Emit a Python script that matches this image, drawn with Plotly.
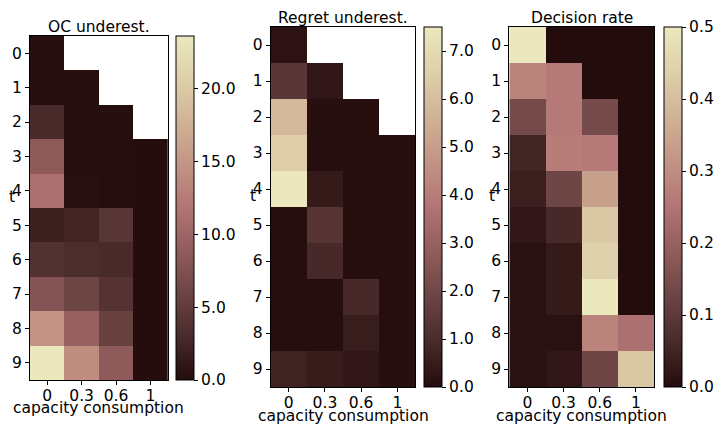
import plotly.graph_objects as go

W, H = 714, 427
nan = None

t_values = [0, 1, 2, 3, 4, 5, 6, 7, 8, 9]
cap_labels = ["0", "0.3", "0.6", "1"]

oc_underest = [
    [0.3, nan, nan, nan],
    [0.3, 0.2, nan, nan],
    [3.0, 0.2, 0.2, nan],
    [8.5, 0.2, 0.2, 0.1],
    [11.2, 0.4, 0.2, 0.1],
    [2.0, 2.5, 4.3, 0.1],
    [3.8, 3.3, 3.0, 0.1],
    [7.8, 6.0, 4.0, 0.1],
    [14.7, 9.5, 5.5, 0.1],
    [23.6, 14.2, 8.6, 0.1],
]

regret_underest = [
    [0.2, nan, nan, nan],
    [1.4, 0.3, nan, nan],
    [5.8, 0.1, 0.1, nan],
    [6.5, 0.05, 0.05, 0.05],
    [7.5, 0.45, 0.05, 0.05],
    [0.05, 1.3, 0.05, 0.05],
    [0.05, 0.9, 0.05, 0.05],
    [0.05, 0.05, 0.9, 0.05],
    [0.05, 0.05, 0.55, 0.05],
    [0.7, 0.5, 0.3, 0.1],
]

decision_rate = [
    [0.5, 0.0, 0.0, 0.0],
    [0.28, 0.26, 0.0, 0.0],
    [0.14, 0.26, 0.14, 0.0],
    [0.05, 0.27, 0.26, 0.0],
    [0.04, 0.13, 0.34, 0.0],
    [0.02, 0.06, 0.42, 0.0],
    [0.01, 0.03, 0.44, 0.0],
    [0.01, 0.03, 0.5, 0.0],
    [0.01, 0.01, 0.28, 0.24],
    [0.01, 0.02, 0.13, 0.42],
]

titles = ["OC underest.", "Regret underest.", "Decision rate"]
vmax = [23.6, 7.5, 0.5]
cb_dtick = [5, 1, 0.1]
datasets = [oc_underest, regret_underest, decision_rate]

pink_scale = [
    [0.0, "rgb(36,12,12)"],
    [0.125, "rgb(72,42,42)"],
    [0.25, "rgb(108,68,68)"],
    [0.375, "rgb(145,92,92)"],
    [0.5, "rgb(178,116,116)"],
    [0.625, "rgb(194,148,132)"],
    [0.75, "rgb(208,178,150)"],
    [0.875, "rgb(222,208,170)"],
    [1.0, "rgb(235,232,190)"],
]

# pixel boxes (left, right, top, bottom) for heatmaps and colorbars
hm_boxes = [(30, 168, 36, 380), (271, 416, 27, 387), (510, 655, 27, 387)]
cb_boxes = [(176, 194, 36, 380), (424, 442, 27, 387), (664, 682, 27, 387)]
title_y = [27, 18, 18]
xlabel_y = [408, 416, 416]
t_label_x = [12.5, 253, 493]

font = dict(family="DejaVu Sans", size=15.5, color="black")

fig = go.Figure()
annotations = []
for i, (z, title) in enumerate(zip(datasets, titles)):
    l, r, t, b = hm_boxes[i]
    cl, cr, ct, cb = cb_boxes[i]
    xa = "x" if i == 0 else f"x{i+1}"
    ya = "y" if i == 0 else f"y{i+1}"
    fig.add_trace(go.Heatmap(
        z=z, x=cap_labels, y=t_values,
        xaxis=xa, yaxis=ya,
        colorscale=pink_scale, zmin=0, zmax=vmax[i],
        xgap=0, ygap=0,
        hoverongaps=False,
        colorbar=dict(
            x=cl / W, xanchor="left", xpad=0, ypad=0,
            y=1 - (ct + cb) / 2 / H, yanchor="middle",
            len=(cb - ct) / H, lenmode="fraction",
            thickness=cr - cl, thicknessmode="pixels",
            outlinewidth=1, outlinecolor="black",
            ticks="outside", ticklen=4, tickcolor="black",
            tick0=0, dtick=cb_dtick[i], tickformat=".1f",
            tickfont=font,
        ),
    ))
    axkey = "xaxis" if i == 0 else f"xaxis{i+1}"
    aykey = "yaxis" if i == 0 else f"yaxis{i+1}"
    fig.layout[axkey] = dict(
        domain=[l / W, r / W], anchor=ya, type="category",
        showline=True, linecolor="black", linewidth=1, mirror=True,
        ticks="outside", ticklen=4, tickcolor="black", tickfont=font,
        ticklabelstandoff=-3,
        showgrid=False, zeroline=False, fixedrange=True, automargin=False,
    )
    fig.layout[aykey] = dict(
        domain=[1 - b / H, 1 - t / H], anchor=xa,
        autorange="reversed",
        tickmode="array", tickvals=t_values, ticktext=[str(v) for v in t_values],
        showline=True, linecolor="black", linewidth=1, mirror=True,
        ticks="outside", ticklen=4, tickcolor="black", tickfont=font,
        showgrid=False, zeroline=False, fixedrange=True, automargin=False,
    )
    annotations.append(dict(
        text=title, x=(l + r) / 2 / W, y=1 - title_y[i] / H,
        xref="paper", yref="paper", xanchor="center", yanchor="middle",
        showarrow=False, font=font,
    ))
    annotations.append(dict(
        text="capacity consumption", x=(l + r) / 2 / W, y=1 - xlabel_y[i] / H,
        xref="paper", yref="paper", xanchor="center", yanchor="middle",
        showarrow=False, font=font,
    ))
    annotations.append(dict(
        text="t", x=t_label_x[i] / W, y=1 - ((t + b) / 2 - 11) / H,
        xref="paper", yref="paper", xanchor="center", yanchor="middle",
        showarrow=False, font=font,
    ))

fig.update_layout(
    width=W, height=H,
    margin=dict(l=0, r=0, t=0, b=0),
    paper_bgcolor="white", plot_bgcolor="white",
    font=font, annotations=annotations, showlegend=False,
)

fig.write_html(
    "out.html",
    config={"displayModeBar": False},
    post_script="document.body.style.margin='0';document.body.style.padding='0';",
)
